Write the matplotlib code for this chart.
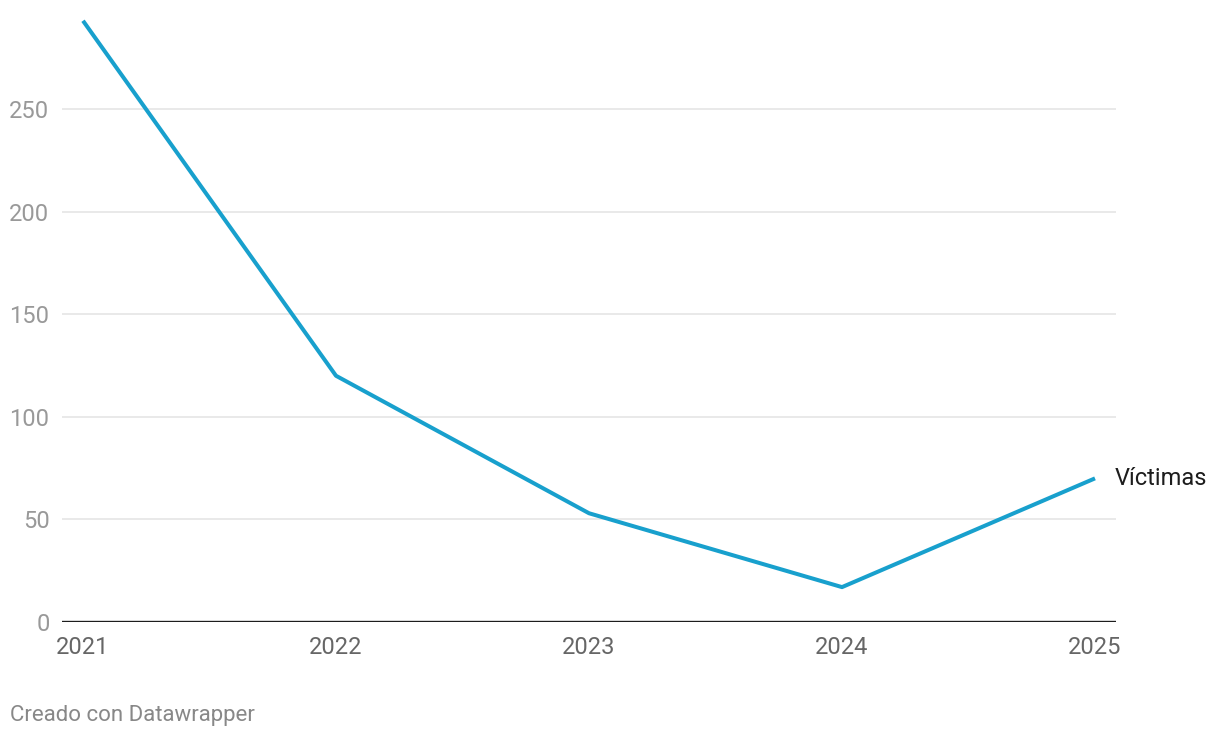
import matplotlib
matplotlib.use('Agg')
import matplotlib.pyplot as plt

plt.rcParams['font.family'] = ['Roboto', 'DejaVu Sans']

# datos
years = [2021, 2022, 2023, 2024, 2025]
victimas = [293, 120, 53, 17, 70]
yticks = [0, 50, 100, 150, 200, 250]
series_label = 'Víctimas'
footer = 'Creado con Datawrapper'

fig = plt.figure(figsize=(12.2, 7.38), dpi=100)
ax = fig.add_axes([62 / 1220, (738 - 622) / 738, (1116 - 62) / 1220, (622 - 6.4) / 738])

for t in yticks[1:]:
    ax.axhline(t, color='#e3e3e3', lw=1.1, zorder=1)
ax.axhline(0, color='#1d1d1d', lw=1.7, zorder=3)

ax.plot(years, victimas, color='#18a0cd', lw=2.9, solid_capstyle='butt', zorder=4)
ax.text(years[-1] + 0.078, victimas[-1], series_label, fontsize=17, color='#1d1d1d',
        va='center', ha='left')

ax.set_xlim(years[0] - 0.083, years[-1] + 0.083)
ax.set_ylim(0, 300)
for s in ax.spines.values():
    s.set_visible(False)
ax.set_xticks(years)
ax.set_xticklabels([str(y) for y in years], fontsize=17, color='#666666')
ax.set_yticks(yticks)
ax.set_yticklabels([str(t) for t in yticks], fontsize=17, color='#999999')
ax.tick_params(axis='both', length=0)
ax.tick_params(axis='y', pad=9)
ax.tick_params(axis='x', pad=10)

fig.text(10 / 1220, 1 - 715 / 738, footer, fontsize=16, color='#888888', va='center', ha='left')

fig.savefig('out.png', dpi=100)
